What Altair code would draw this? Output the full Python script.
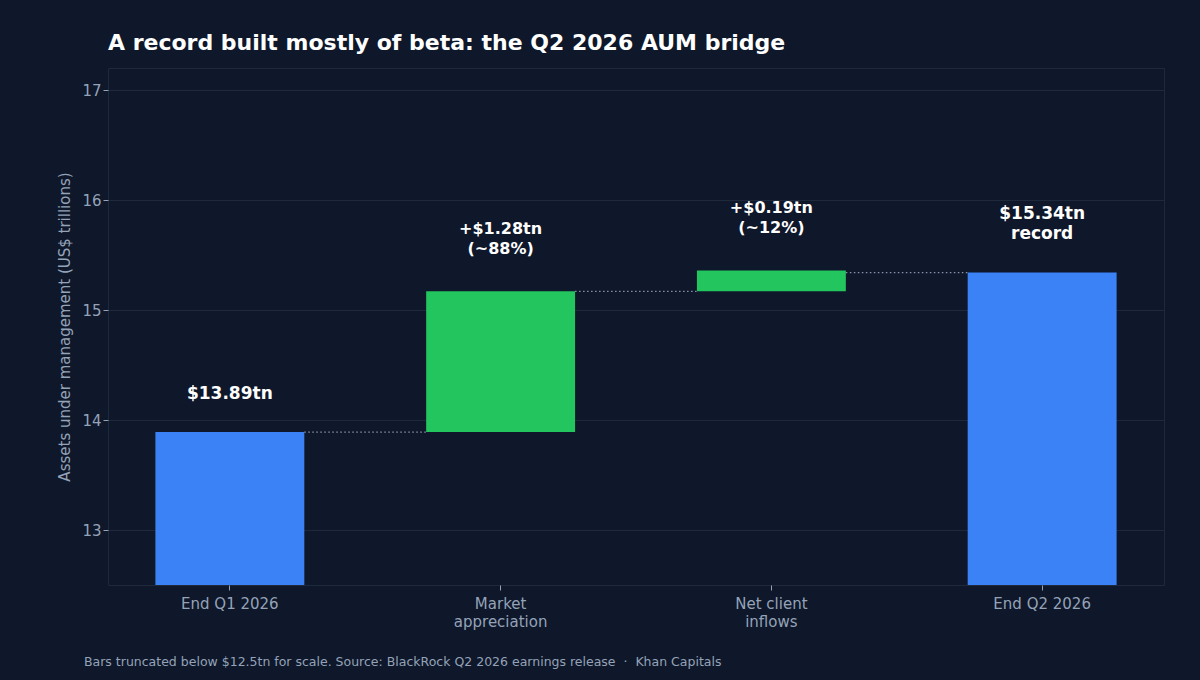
import altair as alt
import pandas as pd

# Q2 2026 AUM bridge (US$ trillions)
steps = ["End Q1 2026", "Market appreciation", "Net client inflows", "End Q2 2026"]
kinds = ["total", "delta", "delta", "total"]
amounts = [13.89, 1.28, 0.19, 15.34]
label_top = ["$13.89tn", "+$1.28tn", "+$0.19tn", "$15.34tn"]
label_sub = ["", "(~88%)", "(~12%)", "record"]
axis_lines = {
    "Market appreciation": ["Market", "appreciation"],
    "Net client inflows": ["Net client", "inflows"],
}

BG = "#0f172a"
GRID = "#1e293b"
MUTED = "#94a3b8"
BLUE = "#3b82f6"
GREEN = "#22c55e"

# running totals for the waterfall
rows = []
level = 0.0
for s, k, a, t1, t2 in zip(steps, kinds, amounts, label_top, label_sub):
    if k == "total":
        start, end = 0.0, a
        level = a
    else:
        start, end = level, level + a
        level = end
    rows.append({"step": s, "kind": k, "start": start, "end": end,
                 "line1": t1, "line2": t2})
bars = pd.DataFrame(rows)

# dotted connectors between neighbouring bars
links = pd.DataFrame({
    "from": steps[:-1],
    "to": steps[1:],
    "level": [rows[0]["end"], rows[1]["end"], rows[3]["end"]],
})

label_expr = " : ".join(
    f"datum.label == '{k}' ? {v!r}" for k, v in axis_lines.items()
) + " : datum.label"

x_scale = alt.Scale(domain=steps, paddingInner=0.45, paddingOuter=0.175)
y_scale = alt.Scale(domain=[12.5, 17.2], clamp=True, nice=False, zero=False)

x_axis = alt.Axis(labelAngle=0, labelExpr=label_expr, labelColor=MUTED,
                  labelFontSize=15, labelLineHeight=18, tickColor=MUTED,
                  tickSize=5, domain=False, labelPadding=6, grid=False)
y_axis = alt.Axis(values=[13, 14, 15, 16, 17], format="d", gridColor=GRID,
                  labelColor=MUTED, labelFontSize=15, titleColor=MUTED,
                  titleFontSize=15, titleFontWeight="normal",
                  tickColor=MUTED, tickSize=5, domain=False, titlePadding=9)
Y_TITLE = "Assets under management (US$ trillions)"

x_enc = alt.X("step:N", scale=x_scale, sort=steps, title=None, axis=x_axis)
y_end = alt.Y("end:Q", scale=y_scale, title=Y_TITLE, axis=y_axis)

base = alt.Chart(bars)

bar_layer = base.mark_bar().encode(
    x=x_enc,
    y=alt.Y("start:Q", scale=y_scale, title=Y_TITLE, axis=y_axis),
    y2="end:Q",
    color=alt.Color("kind:N", scale=alt.Scale(domain=["total", "delta"],
                                              range=[BLUE, GREEN]), legend=None),
)


def value_labels(kind, field, dy, size, two_line):
    """Bold white labels over the bars of one kind."""
    cond = "datum.line2 != ''" if two_line else "datum.line2 == ''"
    return base.transform_filter(f"datum.kind == '{kind}' && {cond}").mark_text(
        fontWeight="bold", color="white", baseline="bottom", dy=dy, fontSize=size,
    ).encode(x=x_enc, y=y_end, text=f"{field}:N")


label_layers = [
    value_labels("total", "line1", -29, 17, False),
    value_labels("total", "line1", -50, 17, True),
    value_labels("total", "line2", -30, 17, True),
    value_labels("delta", "line1", -54, 16, True),
    value_labels("delta", "line2", -34, 16, True),
]

link_layer = alt.Chart(links).mark_rule(
    color=MUTED, strokeDash=[1.5, 2.5], strokeWidth=1.2, opacity=0.9,
).encode(
    x=alt.X("from:N", scale=x_scale, sort=steps, bandPosition=1,
            title=None, axis=x_axis),
    x2=alt.X2("to:N", bandPosition=0),
    y=alt.Y("level:Q", scale=y_scale, title=Y_TITLE, axis=y_axis),
)

note = alt.Chart(pd.DataFrame({"t": [
    "Bars truncated below $12.5tn for scale. Source: BlackRock Q2 2026 "
    "earnings release\u00a0\u00a0\u00b7\u00a0\u00a0Khan Capitals"
]})).mark_text(
    align="left", baseline="middle", fontSize=12.5, color=MUTED,
).encode(x=alt.value(-24), y=alt.value(594), text="t:N")

chart = alt.layer(bar_layer, link_layer, *label_layers, note).properties(
    width=1056, height=517,
    background=BG,
    padding={"left": 108, "top": 68, "right": 36, "bottom": 95},
    autosize=alt.AutoSizeParams(type="none"),
    title=alt.TitleParams(
        "A record built mostly of beta: the Q2 2026 AUM bridge",
        anchor="start", frame="group", color="white", fontSize=22,
        fontWeight="bold", offset=13,
    ),
).configure(
    font="DejaVu Sans",
    view=alt.ViewConfig(stroke=GRID, strokeWidth=1),
)

chart.save("out.html", embed_options={"renderer": "svg", "actions": False})
